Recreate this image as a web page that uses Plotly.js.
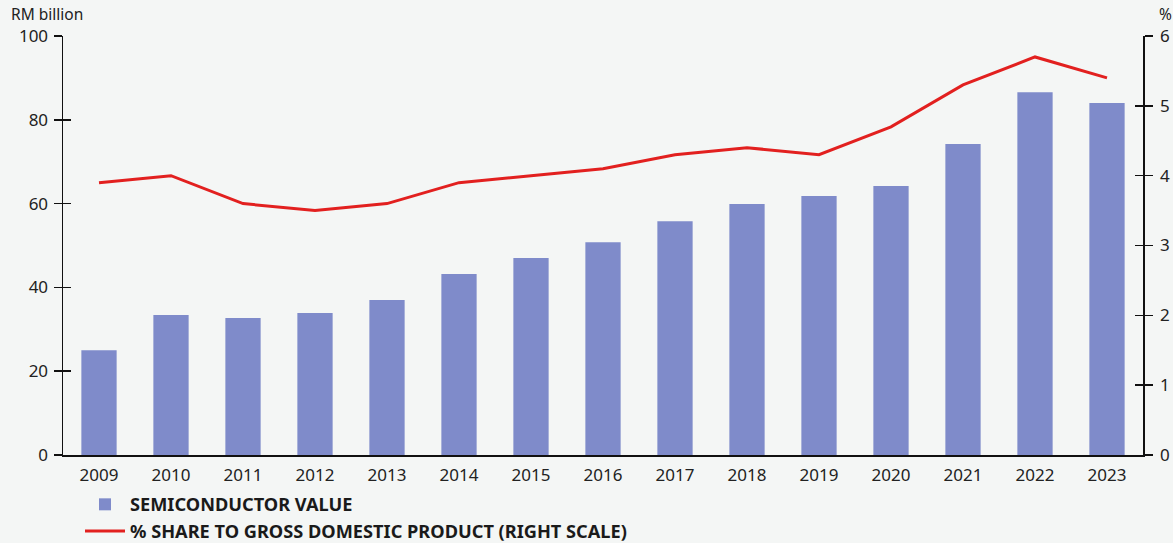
<!DOCTYPE html>
<html><head><meta charset="utf-8">
<script src="https://cdn.plot.ly/plotly-3.0.1.min.js"></script>
<style>html,body{margin:0;padding:0;background:#f4f6f5;}#chart{width:1173px;height:543px;}</style>
</head><body><div id="chart"></div>
<script>
const years = ['2009','2010','2011','2012','2013','2014','2015','2016','2017','2018','2019','2020','2021','2022','2023'];
const semiconductorValue = [25.0, 33.4, 32.7, 33.9, 37.0, 43.2, 47.0, 50.8, 55.8, 59.9, 61.8, 64.2, 74.2, 86.6, 84.0];
const shareOfGdp = [3.9, 4.0, 3.6, 3.5, 3.6, 3.9, 4.0, 4.1, 4.3, 4.4, 4.3, 4.7, 5.3, 5.7, 5.4];
const leftTicks = [0, 20, 40, 60, 80, 100];
const rightTicks = [0, 1, 2, 3, 4, 5, 6];

const font = 'Noto Sans, Open Sans, sans-serif';
const traces = [
  {type:'bar', x:years, y:semiconductorValue, name:'SEMICONDUCTOR VALUE',
   marker:{color:'#7f8bca'}, yaxis:'y', hoverinfo:'x+y'},
  {type:'scatter', mode:'lines', x:years, y:shareOfGdp, name:'% SHARE TO GROSS DOMESTIC PRODUCT (RIGHT SCALE)',
   line:{color:'#e2201f', width:3}, yaxis:'y2'}
];
const common = {showgrid:false, zeroline:false, linecolor:'#111', linewidth:1.5, tickcolor:'#111', tickwidth:1.5, ticklen:8,
  tickfont:{family:font, size:17, color:'#222'}};
const layout = {
  width:1173, height:543,
  paper_bgcolor:'#f4f6f5', plot_bgcolor:'#f4f6f5',
  margin:{l:63, r:30, t:36, b:88, autoexpand:false},
  bargap:0.51,
  showlegend:true,
  legend:{orientation:'v', x:80/1173, xref:'container', y:(543-486)/543, yref:'container', yanchor:'top', xanchor:'left',
    font:{family:font, size:18.2, color:'#1a1a1a', weight:'bold'}, tracegroupgap:0, itemwidth:40, bgcolor:'rgba(0,0,0,0)'},
  xaxis:{type:'category', range:[-0.5,14.5], showline:true, linecolor:'#111', linewidth:1.5, ticks:'', showgrid:false,
    tickfont:{family:font, size:17, color:'#222'}, ticklabelstandoff:4, tickangle:0},
  yaxis:Object.assign({}, common, {range:[0,100], tickvals:leftTicks, ticks:'outside', showline:true, ticklabelstandoff:2}),
  yaxis3:Object.assign({}, common, {range:[0,100], tickvals:leftTicks, ticks:'inside', showline:false, showticklabels:false, overlaying:'y', side:'left', anchor:'x'}),
  yaxis2:Object.assign({}, common, {range:[0,6], tickvals:rightTicks, ticks:'outside', showline:true, overlaying:'y', side:'right', anchor:'x', ticklabelstandoff:4}),
  yaxis4:Object.assign({}, common, {range:[0,6], tickvals:rightTicks, ticks:'inside', showline:false, showticklabels:false, overlaying:'y', side:'right', anchor:'x'}),
  annotations:[
    {text:'RM billion', xref:'paper', yref:'paper', x:-0.05, y:1.0, yshift:22, xanchor:'left', yanchor:'middle', showarrow:false,
     font:{family:font, size:15.5, color:'#222'}},
    {text:'%', xref:'paper', yref:'paper', x:1.0, xshift:22, y:1.0, yshift:22, xanchor:'center', yanchor:'middle', showarrow:false,
     font:{family:font, size:15.5, color:'#222'}}
  ]
};
traces.push({type:'scatter', x:[years[0]], y:[0], yaxis:'y3', mode:'markers', marker:{opacity:0}, showlegend:false, hoverinfo:'skip'});
traces.push({type:'scatter', x:[years[0]], y:[0], yaxis:'y4', mode:'markers', marker:{opacity:0}, showlegend:false, hoverinfo:'skip'});
Plotly.newPlot('chart', traces, layout, {displayModeBar:false, staticPlot:true});
</script></body></html>
